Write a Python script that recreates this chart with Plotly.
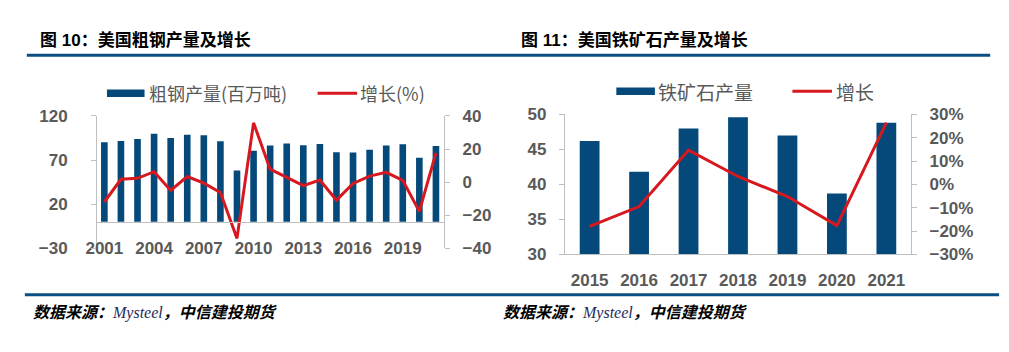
import plotly.graph_objects as go

# ---------------- data ----------------
steel_years = list(range(2001, 2022))
steel_output = [90.1, 91.6, 93.7, 99.7, 94.9, 98.6, 98.1, 91.4, 58.2, 80.5, 86.4,
                88.7, 86.9, 88.2, 78.8, 78.5, 81.6, 86.6, 87.8, 72.7, 85.8]
steel_growth = [-12.0, 1.7, 2.3, 6.3, -5.0, 3.4, -0.6, -6.3, -34.0, 35.8, 7.8,
                2.7, -2.1, 1.3, -10.9, -0.8, 3.6, 5.9, 1.1, -17.7, 17.7]
steel_ticks = [2001, 2004, 2007, 2010, 2013, 2016, 2019]

ore_years = ["2015", "2016", "2017", "2018", "2019", "2020", "2021"]
ore_output = [46.2, 41.8, 48.0, 49.6, 47.0, 38.7, 48.8]
ore_growth = [-0.180, -0.095, 0.147, 0.034, -0.052, -0.177, 0.265]

title_left = "图 10：美国粗钢产量及增长"
title_right = "图 11：美国铁矿石产量及增长"
legend_left = ["粗钢产量(百万吨)", "增长(%)"]
legend_right = ["铁矿石产量", "增长"]
source_text = "数据来源：Mysteel，中信建投期货"

# ---------------- style ----------------
W, H = 1009, 352
BAR = "#05497b"
RED = "#d7191f"
AX = "#bfbfbf"
TXT = "#595959"
NUMFONT = dict(family="Liberation Sans, Arial", size=17, color=TXT, weight="bold")
CJK = "Noto Sans CJK SC"

def px(x):
    return x / W

def py(y):
    return 1 - y / H

fig = go.Figure()

# left chart
fig.add_trace(go.Bar(x=steel_years, y=steel_output, marker_color=BAR,
                     marker_line_width=0, xaxis="x", yaxis="y", showlegend=False))
fig.add_trace(go.Scatter(x=steel_years, y=steel_growth, mode="lines",
                         line=dict(color=RED, width=3), xaxis="x", yaxis="y2",
                         showlegend=False))
# right chart
fig.add_trace(go.Bar(x=ore_years, y=ore_output, marker_color=BAR,
                     marker_line_width=0, xaxis="x2", yaxis="y3", showlegend=False))
fig.add_trace(go.Scatter(x=ore_years, y=ore_growth, mode="lines",
                         line=dict(color=RED, width=3), xaxis="x2", yaxis="y4",
                         showlegend=False))

axis_common = dict(showgrid=False, zeroline=False, showline=True, linecolor=AX,
                   linewidth=1, tickfont=NUMFONT, fixedrange=True)

fig.update_layout(
    width=W, height=H, margin=dict(l=0, r=0, t=0, b=0),
    paper_bgcolor="white", plot_bgcolor="white",
    bargap=0.6, showlegend=False,
    xaxis=dict(**axis_common, domain=[px(86), px(438)], anchor="free",
               position=py(225), range=[2000.5, 2021.5], tickvals=steel_ticks,
               ticks="", ticklabelstandoff=11),
    yaxis=dict(**axis_common, domain=[py(253), py(113)], anchor="free",
               position=px(86), range=[-30, 120], tickvals=[-30, 20, 70, 120],
               ticks="outside", ticklen=5, tickcolor=AX, ticklabelstandoff=20),
    yaxis2=dict(**axis_common, overlaying="y", side="right", anchor="free",
                position=px(438), range=[-40, 40], dtick=20,
                ticks="outside", ticklen=5, tickcolor=AX, ticklabelstandoff=9),
    xaxis2=dict(**axis_common, domain=[px(560), px(910)], anchor="y3",
                type="category", ticks="", ticklabelstandoff=10),
    yaxis3=dict(**axis_common, domain=[py(259.3), py(111.5)], anchor="x2",
                range=[30, 50], dtick=5, ticks="outside", ticklen=5,
                tickcolor=AX, ticklabelstandoff=9),
    yaxis4=dict(**axis_common, overlaying="y3", side="right", anchor="x2",
                range=[-0.3, 0.3], dtick=0.1, tickformat=".0%",
                ticks="outside", ticklen=5, tickcolor=AX, ticklabelstandoff=9),
)

shapes = []
annotations = []

# header rule + titles
shapes.append(dict(type="line", xref="paper", yref="paper", x0=px(16), x1=px(990),
                   y0=py(49), y1=py(49), line=dict(color="#0b4f82", width=3)))
shapes.append(dict(type="line", xref="paper", yref="paper", x0=px(14), x1=px(999),
                   y0=py(302), y1=py(302), line=dict(color="#0b4f82", width=3)))
for tx, t in [(27, title_left), (514, title_right)]:
    annotations.append(dict(xref="paper", yref="paper", x=px(tx), y=py(33),
                            xanchor="left", yanchor="middle", showarrow=False,
                            text="<b>" + t + "</b>",
                            font=dict(family="Liberation Sans, " + CJK, size=17,
                                      color="#000000")))

# footers
for tx in [20, 495]:
    annotations.append(dict(
        xref="paper", yref="paper", x=px(tx), y=py(319), xanchor="left",
        yanchor="middle", showarrow=False,
        text=("<b><i>" + source_text[:5] + "</i></b>"
              + "<span style='font-family:Liberation Serif;color:#1c2b5c'><i>"
              + source_text[5:12] + "</i></span>"
              + "<b><i>" + source_text[12:] + "</i></b>"),
        font=dict(family=CJK, size=16, color="#000000")))

# legends
def legend(bar_x0, bar_x1, bar_text_x, y, bar_label, line_x0, line_x1, line_text_x,
           line_label, size):
    shapes.append(dict(type="rect", xref="paper", yref="paper", x0=px(bar_x0),
                       x1=px(bar_x1), y0=py(y + 4), y1=py(y - 4),
                       fillcolor=BAR, line=dict(width=0)))
    shapes.append(dict(type="line", xref="paper", yref="paper", x0=px(line_x0),
                       x1=px(line_x1), y0=py(y), y1=py(y),
                       line=dict(color=RED, width=3)))
    for tx, lab in [(bar_text_x, bar_label), (line_text_x, line_label)]:
        annotations.append(dict(xref="paper", yref="paper", x=px(tx), y=py(y),
                                xanchor="left", yanchor="middle", showarrow=False,
                                text=lab, font=dict(family=CJK, size=size,
                                                    color=TXT)))

legend(97, 135, 137, 89, legend_left[0], 310, 350, 351, legend_left[1], 18)
legend(612, 651, 652, 87, legend_right[0], 790, 830, 832, legend_right[1], 19)

fig.update_layout(shapes=shapes, annotations=annotations)

fig.write_html("out.html")
